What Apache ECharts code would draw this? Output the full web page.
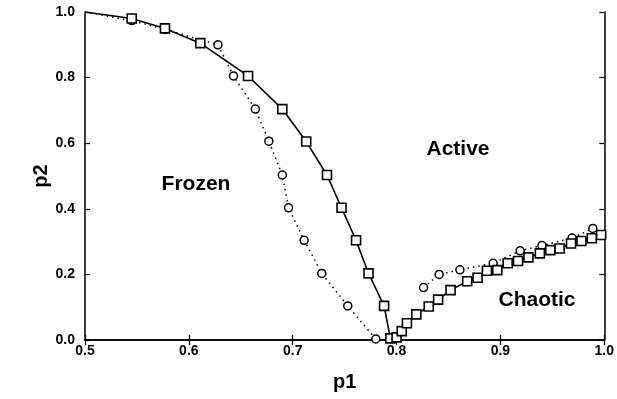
<!DOCTYPE html>
<html lang="en">
<head>
<meta charset="UTF-8">
<title>p1 / p2 phase diagram</title>
<script src="https://cdn.jsdelivr.net/npm/echarts@6.0.0/dist/echarts.min.js"></script>
<style>
  html, body { margin: 0; padding: 0; background: #fff; }
</style>
</head>
<body>
<div id="main" style="width: 617px;height:399px;"></div>
<script type="text/javascript">
// squares, solid line (one continuous curve through the dip at ~0.79)
const squareX = [0.5, 0.545, 0.577, 0.611, 0.657, 0.690, 0.713, 0.733, 0.747, 0.761, 0.773, 0.788,
  0.794, 0.800, 0.805, 0.810, 0.819, 0.831, 0.840, 0.852, 0.868, 0.878, 0.887, 0.897, 0.907,
  0.917, 0.927, 0.938, 0.948, 0.957, 0.968, 0.978, 0.988, 0.997];
const squareY = [1.0, 0.98, 0.95, 0.905, 0.805, 0.704, 0.605, 0.503, 0.403, 0.304, 0.203, 0.104,
  0.005, 0.008, 0.027, 0.051, 0.078, 0.102, 0.123, 0.152, 0.179, 0.190, 0.211, 0.213, 0.234,
  0.241, 0.252, 0.264, 0.274, 0.279, 0.294, 0.302, 0.310, 0.320];

// circles, dotted line, left branch
const circleLeftX = [0.5, 0.545, 0.577, 0.628, 0.643, 0.664, 0.677, 0.690, 0.696, 0.711, 0.728, 0.753, 0.780];
const circleLeftY = [1.0, 0.974, 0.947, 0.9, 0.805, 0.704, 0.606, 0.503, 0.403, 0.304, 0.203, 0.104, 0.003];

// circles, dotted line, right branch
const circleRightX = [0.826, 0.841, 0.861, 0.893, 0.919, 0.940, 0.969, 0.989];
const circleRightY = [0.160, 0.200, 0.214, 0.234, 0.272, 0.288, 0.311, 0.340];

const xTicks = [0.5, 0.6, 0.7, 0.8, 0.9, 1.0];
const yTicks = [0.0, 0.2, 0.4, 0.6, 0.8, 1.0];

const regionLabels = ['Frozen', 'Active', 'Chaotic'];

function pairs(xs, ys) {
  return xs.map((x, i) => [x, ys[i]]);
}
// the first point of each curve is the corner (0.5, 1.0), drawn without a marker
function noFirstMarker(pts) {
  return pts.map((p, i) => i === 0 ? { value: p, symbol: 'none' } : p);
}

const font = 'Liberation Sans';
const axisLine = { show: true, lineStyle: { color: '#000', width: 1.5 } };
const tick = { show: true, inside: true, length: 5, lineStyle: { color: '#000', width: 1.2 } };
const tickLabel = {
  color: '#000', fontFamily: font, fontWeight: 'bold', fontSize: 14,
  formatter: v => v.toFixed(1)
};

let myChart = echarts.init(document.getElementById('main'));

let options = {
  animation: false,
  backgroundColor: '#fff',
  grid: { left: 85, right: 11, top: 12, bottom: 59 },
  xAxis: [
    {
      type: 'value', min: xTicks[0], max: xTicks[xTicks.length - 1], interval: 0.1,
      name: 'p1', nameLocation: 'middle', nameGap: 32, nameMoveOverlap: false,
      nameTextStyle: { color: '#000', fontFamily: font, fontWeight: 'bold', fontSize: 20 },
      axisLine, axisTick: tick, axisLabel: Object.assign({ margin: 4 }, tickLabel),
      splitLine: { show: false }
    },
    {
      type: 'value', position: 'top', min: 0.5, max: 1.0, interval: 0.1,
      axisLine, axisTick: tick, axisLabel: { show: false }, splitLine: { show: false }
    }
  ],
  yAxis: [
    {
      type: 'value', min: yTicks[0], max: yTicks[yTicks.length - 1], interval: 0.2,
      name: 'p2', nameLocation: 'middle', nameGap: 34, nameRotate: 90, nameMoveOverlap: false,
      nameTextStyle: { color: '#000', fontFamily: font, fontWeight: 'bold', fontSize: 20 },
      axisLine, axisTick: tick, axisLabel: Object.assign({ margin: 10 }, tickLabel),
      splitLine: { show: false }
    },
    {
      type: 'value', position: 'right', min: 0, max: 1.0, interval: 0.2,
      axisLine, axisTick: tick, axisLabel: { show: false }, splitLine: { show: false }
    }
  ],
  series: [
    {
      name: 'circles left', type: 'line', z: 2,
      data: noFirstMarker(pairs(circleLeftX, circleLeftY)),
      symbol: 'circle', symbolSize: 8, showAllSymbol: true,
      lineStyle: { color: '#000', width: 1.5, type: [1.5, 4] },
      itemStyle: { color: '#fff', borderColor: '#000', borderWidth: 1.5 }
    },
    {
      name: 'circles right', type: 'line', z: 2,
      data: pairs(circleRightX, circleRightY),
      symbol: 'circle', symbolSize: 8, showAllSymbol: true,
      lineStyle: { color: '#000', width: 1.5, type: [1.5, 4] },
      itemStyle: { color: '#fff', borderColor: '#000', borderWidth: 1.5 }
    },
    {
      name: 'squares', type: 'line', z: 3,
      data: noFirstMarker(pairs(squareX, squareY)),
      symbol: 'rect', symbolSize: 9, showAllSymbol: true,
      lineStyle: { color: '#000', width: 1.6 },
      itemStyle: { color: '#fff', borderColor: '#000', borderWidth: 1.6 }
    }
  ],
  graphic: [
    { type: 'text', x: 196, y: 184, style: { text: regionLabels[0], font: 'bold 21px "Liberation Sans"', fill: '#000', align: 'center', verticalAlign: 'middle' } },
    { type: 'text', x: 458, y: 149, style: { text: regionLabels[1], font: 'bold 21px "Liberation Sans"', fill: '#000', align: 'center', verticalAlign: 'middle' } },
    { type: 'text', x: 537, y: 300, style: { text: regionLabels[2], font: 'bold 21px "Liberation Sans"', fill: '#000', align: 'center', verticalAlign: 'middle' } }
  ]
};

myChart.setOption(options);
</script>
</body>
</html>
